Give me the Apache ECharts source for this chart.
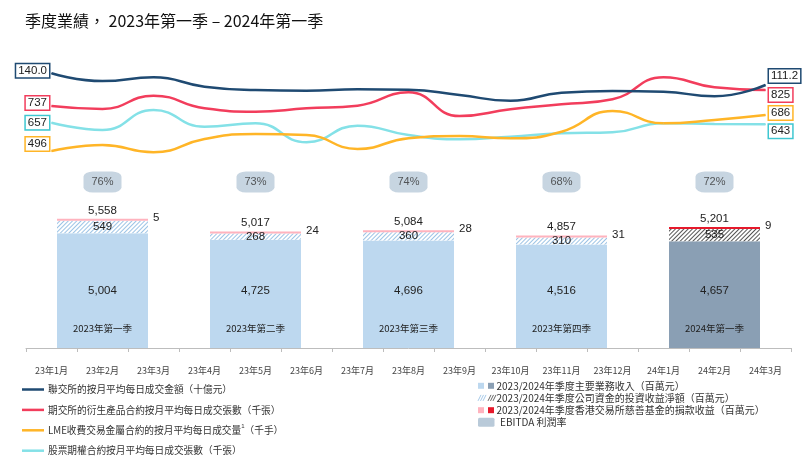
<!DOCTYPE html>
<html>
<head>
<meta charset="utf-8">
<script src="https://cdn.jsdelivr.net/npm/echarts@6/dist/echarts.min.js"></script>
<style>
html,body{margin:0;padding:0;background:#fff;}
#chart{width:811px;height:470px;}
</style>
</head>
<body>
<div id="chart"></div>
<script>
// ---------- data ----------
const titleText = '季度業績， 2023年第一季 – 2024年第一季';
const months = ['23年1月','23年2月','23年3月','23年4月','23年5月','23年6月','23年7月','23年8月','23年9月','23年10月','23年11月','23年12月','24年1月','24年2月','24年3月'];
// monthly line series
const hkexADT = [140.0,121.0,130.2,107.0,98.9,97.2,100.6,99.6,86.6,72.6,92.2,96.4,94.7,83.4,111.2];
const hkfeADV = [737,721,794,724,706,724,739,812,682,719,746,774,895,840,825];
const lmeADV = [496,528,489,559,586,580,507,563,575,563,598,707,642,660,686];
const stockOptADV = [657,593,768,622,652,486,631,549,512,535,564,573,652,646,643];
// quarterly bars (placed at the middle month of each quarter)
const quarters = ['2023年第一季','2023年第二季','2023年第三季','2023年第四季','2024年第一季'];
const quarterMidMonth = ['23年2月','23年5月','23年8月','23年11月','24年2月'];
const revenue = [5004,4725,4696,4516,4657];
const investment = [549,268,360,310,535];
const donation = [5,24,28,31,9];
const totals = [5558,5017,5084,4857,5201];
const ebitdaMargin = [76,73,74,68,72];
const lineNames = ['聯交所的按月平均每日成交金額（十億元）','期交所的衍生產品合約按月平均每日成交張數（千張）','LME收費交易金屬合約的按月平均每日成交量','股票期權合約按月平均每日成交張數（千張）'];
const barNames = ['2023/2024年季度主要業務收入（百萬元）','2023/2024年季度公司資金的投資收益淨額（百萬元）','2023/2024年季度香港交易所慈善基金的捐款收益（百萬元）','EBITDA 利潤率'];

// ---------- styles ----------
const C = {
  navy:'#1f4a72', red:'#f23d5c', orange:'#ffb527', cyan:'#84e1e7', cyanBox:'#3fc7d1',
  light:'#bdd8ef', dark:'#8a9fb4', hatchLight:'#9cc3e5', hatchDark:'#555555',
  pink:'#ffb3be', redDon:'#e6192b', ebitda:'#b9cad9', text:'#222'
};
const NUM = 'Liberation Sans, Arial, sans-serif';
const CJK = '"Noto Sans CJK TC", "Noto Sans CJK SC", sans-serif';
const fmt = v => Number(v).toLocaleString('en-US');
const lastQ = quarters.length - 1;

function quarterIndex(monthName){ return quarterMidMonth.indexOf(monthName); }
function toMonthly(arr, mapper){
  return months.map(m => { const q = quarterIndex(m); return q < 0 ? '-' : mapper(arr[q], q); });
}

function lineSeries(name, data, color, boxColor, yIdx, offL, offR, decimals){
  return {
    type:'line', name, xAxisIndex:0, yAxisIndex:yIdx, smooth:0.5,
    symbol:'circle', symbolSize:1, showSymbol:true,
    lineStyle:{color, width:2.5}, itemStyle:{color},
    label:{show:false, formatter:p=>Number(p.value).toFixed(decimals), backgroundColor:'#fff',
      borderColor:boxColor, borderWidth:1.5, padding:[1,2,0,2], fontSize:11.5, color:C.text, fontFamily:NUM},
    data: data.map((v,i)=>{
      if(i===0) return {value:v, label:{show:true, position:'left', distance:2, offset:[0,offL]}};
      if(i===data.length-1) return {value:v, label:{show:true, position:'right', distance:3, offset:[0,offR]}};
      return v;
    }),
    z:3
  };
}

const hatch = color => ({symbol:'rect', symbolSize:1, dashArrayX:[1,0], dashArrayY:[1,2], rotation:-Math.PI/4, color});

const L = 26, W = 765;
const option = {
  animation:false,
  title:{text:titleText, left:20, top:8, textStyle:{fontSize:16, fontWeight:'normal', color:'#111', fontFamily:CJK}},
  grid:[
    {left:L, width:W, top:50, height:110},
    {left:L, width:W, top:171, height:22},
    {left:L, width:W, top:210.5, height:137.5}
  ],
  xAxis:[
    {type:'category', gridIndex:0, data:months, show:false},
    {type:'category', gridIndex:1, data:months, show:false},
    {type:'category', gridIndex:2, data:months, boundaryGap:true,
      axisLine:{lineStyle:{color:'#bdbdbd'}},
      axisTick:{show:true, length:4, lineStyle:{color:'#bdbdbd'}},
      axisLabel:{fontSize:9, color:'#444', margin:18, fontFamily:CJK}}
  ],
  yAxis:[
    {type:'value', gridIndex:0, show:false, min:-73.4, max:197.4},
    {type:'value', gridIndex:0, show:false, min:440, max:1045},
    {type:'value', gridIndex:0, show:false, min:448.5, max:1029},
    {type:'value', gridIndex:0, show:false, min:330.6, max:1293},
    {type:'category', gridIndex:1, show:false, data:['EBITDA 利潤率']},
    {type:'value', gridIndex:2, show:false, min:0, max:6000}
  ],
  series:[
    lineSeries(lineNames[3], stockOptADV, C.cyan, C.cyanBox, 3, 0, 7, 0),
    lineSeries(lineNames[2], lmeADV, C.orange, C.orange, 2, -7, -2, 0),
    lineSeries(lineNames[1], hkfeADV, C.red, C.red, 1, -3, 5, 0),
    lineSeries(lineNames[0], hkexADT, C.navy, C.navy, 0, -2.5, -9, 1),
    {
      type:'scatter', name:barNames[3], xAxisIndex:1, yAxisIndex:4,
      symbol:'roundRect', symbolSize:[38,21], itemStyle:{color:C.ebitda},
      data: quarterMidMonth.map((m,i)=>({value:[m,'EBITDA 利潤率'], pct:ebitdaMargin[i]})),
      label:{show:true, position:'inside', formatter:p=>p.data.pct+'%', fontSize:11, color:'#333', fontFamily:NUM}
    },
    {
      type:'bar', name:barNames[0], xAxisIndex:2, yAxisIndex:5, stack:'q', barWidth:91, barGap:'-100%',
      data: toMonthly(revenue, (v,q)=>({value:v, itemStyle:{color: q===lastQ ? C.dark : C.light}})),
      label:{show:true, position:'insideBottom', distance:12,
        formatter:p=>`{v|${fmt(p.value)}}\n{q|${quarters[quarterIndex(p.name)]}}`,
        rich:{v:{fontSize:11.5, lineHeight:58, color:C.text, fontFamily:NUM},
              q:{fontSize:9.5, lineHeight:16, color:C.text, fontFamily:CJK}}}
    },
    {
      type:'bar', name:barNames[1], xAxisIndex:2, yAxisIndex:5, stack:'q', barWidth:91, barGap:'-100%',
      data: toMonthly(investment, (v,q)=>({value:v, itemStyle:{color:'#ffffff', decal: hatch(q===lastQ ? C.hatchDark : C.hatchLight)}})),
      label:{show:true, position:'inside', formatter:p=>fmt(p.value), fontSize:11.5, color:C.text, fontFamily:NUM}
    },
    {
      type:'bar', name:barNames[2], xAxisIndex:2, yAxisIndex:5, stack:'q', barWidth:91, barGap:'-100%', barMinHeight:2,
      data: toMonthly(donation, (v,q)=>({value:v, itemStyle:{color: q===lastQ ? C.redDon : C.pink}})),
      label:{show:true, position:'right', distance:5, offset:[0,-2], formatter:p=>fmt(p.value), fontSize:11.5, color:C.text, fontFamily:NUM}
    },
    {
      type:'bar', name:'合計', xAxisIndex:2, yAxisIndex:5, barWidth:91, barGap:'-100%', z:1,
      data: toMonthly(totals, v=>v),
      itemStyle:{color:'rgba(0,0,0,0)'},
      label:{show:true, position:'top', distance:4, formatter:p=>fmt(p.value), fontSize:11.5, color:C.text, fontFamily:NUM}
    }
  ],
  graphic:[]
};

// ---------- custom legends ----------
const g = option.graphic;
const lineColors = [C.navy, C.red, C.orange, C.cyan];
lineNames.forEach((n,i)=>{
  const y = 389.5 + i*20.4;
  g.push({type:'line', shape:{x1:22, y1:y, x2:44, y2:y}, style:{stroke:lineColors[i], lineWidth:2.5}});
  const text = i===2 ? `{n|${n}}{s|1}{n|（千手）}` : `{n|${n}}`;
  g.push({type:'text', x:48, y:y, style:{text, fill:'#333', verticalAlign:'middle',
    rich:{n:{fontSize:9.7, fontFamily:CJK, fill:'#333'}, s:{fontSize:6, fontFamily:NUM, fill:'#333', padding:[0,0,8,0]}}}});
});
const rowY = [385.8, 397.9, 410.2, 422.3];
// row 1 squares
g.push({type:'rect', shape:{x:478, y:rowY[0]-3, width:6, height:6}, style:{fill:C.light}});
g.push({type:'rect', shape:{x:488, y:rowY[0]-3, width:6, height:6}, style:{fill:C.dark}});
// row 2 hatch icons
[[478,C.hatchLight],[488,C.hatchDark]].forEach(([x,col])=>{
  for(let k=0;k<3;k++){
    g.push({type:'line', shape:{x1:x+k*2.5, y1:rowY[1]+3, x2:x+k*2.5+3, y2:rowY[1]-3}, style:{stroke:col, lineWidth:0.9}});
  }
});
// row 3 squares
g.push({type:'rect', shape:{x:478, y:rowY[2]-3, width:6, height:6}, style:{fill:C.pink}});
g.push({type:'rect', shape:{x:488, y:rowY[2]-3, width:6, height:6}, style:{fill:C.redDon}});
// row 4 box
g.push({type:'rect', shape:{x:478, y:rowY[3]-4.5, width:16.5, height:9, r:1.5}, style:{fill:C.ebitda}});
barNames.forEach((n,i)=>{
  g.push({type:'text', x: i===3 ? 500 : 496.5, y:rowY[i], style:{text:n, fill:'#333', fontSize:10, fontFamily:CJK, verticalAlign:'middle'}});
});

const chart = echarts.init(document.getElementById('chart'), null, {renderer:'canvas'});
chart.setOption(option);
</script>
</body>
</html>
